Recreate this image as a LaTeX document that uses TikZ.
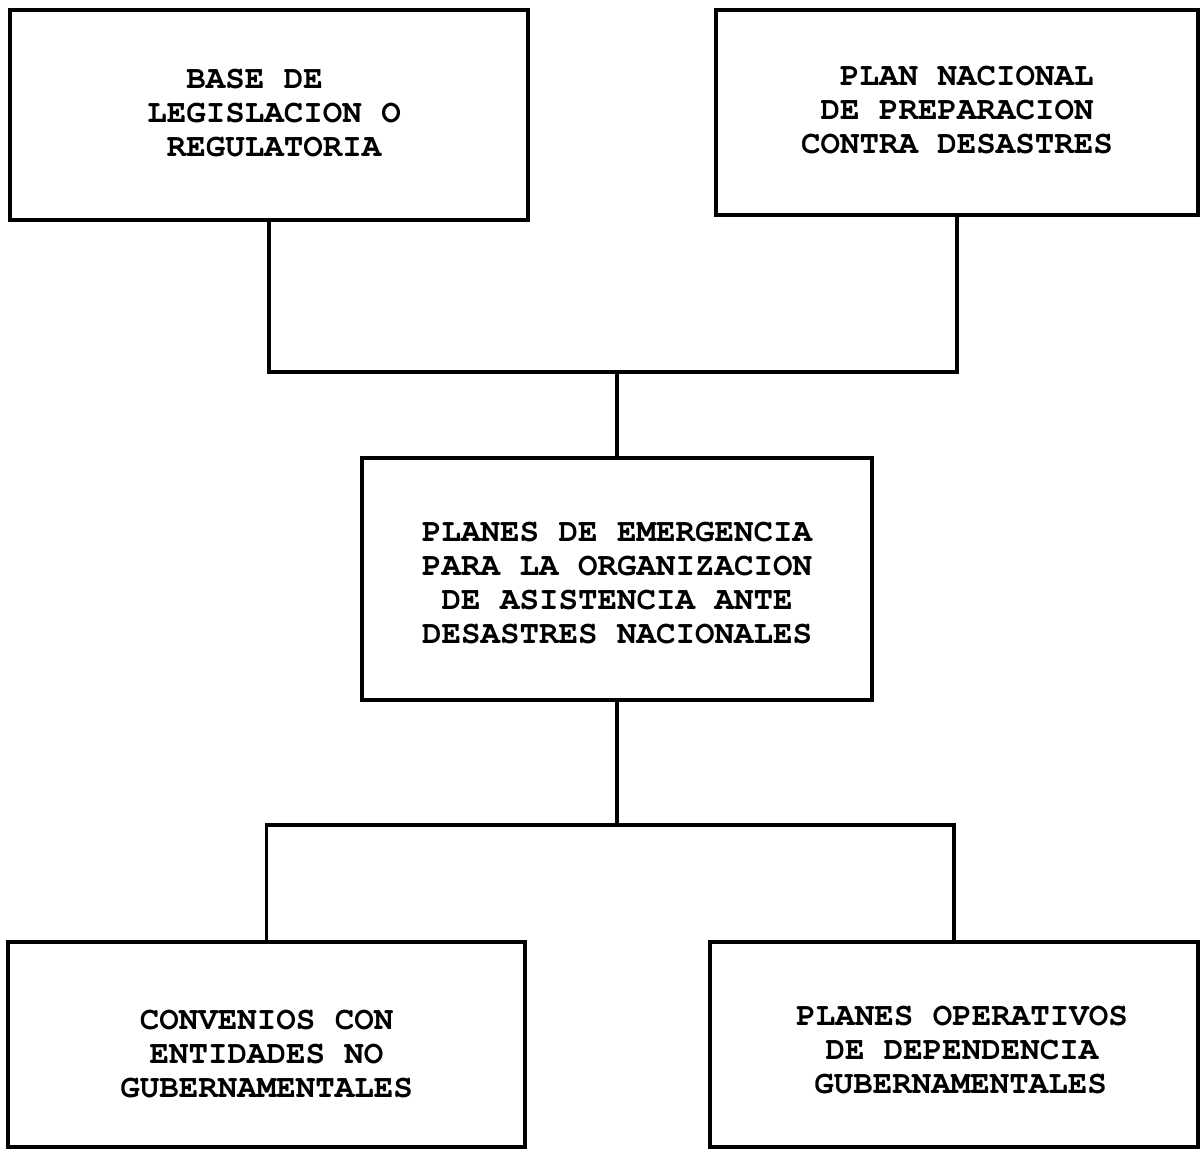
\documentclass[tikz,border=0pt]{standalone}
\usepackage{fontspec}
\newfontfamily\boxfont{texgyrecursor-bold.otf}
\begin{document}
\begin{tikzpicture}[x=1pt,y=-1pt,
  box/.style={draw,line width=3.2pt,rectangle,inner sep=0pt},
  txt/.style={inner sep=0pt,align=center,font=\boxfont\fontsize{32.5}{34}\selectfont},
  link/.style={line width=3.2pt}]
\useasboundingbox (0,0) rectangle (1201,1149);
\node[box,minimum width=518pt,minimum height=210pt] (tl) at (269,115) {};
\node[box,minimum width=482pt,minimum height=205pt] (tr) at (957,112.5) {};
\node[box,minimum width=510pt,minimum height=242pt] (mid) at (617,579) {};
\node[box,minimum width=517pt,minimum height=205pt] (bl) at (266.5,1044.5) {};
\node[box,minimum width=488pt,minimum height=205pt] (br) at (954,1044.5) {};
\node[txt] (tlt) at ([xshift=5pt,yshift=2pt]tl.center) {BASE DE\hspace*{39pt}\\LEGISLACION O\\REGULATORIA};
\node[txt] (trt) at ([xshift=0pt,yshift=2pt]tr.center) {\hspace*{19.5pt}PLAN NACIONAL\\DE PREPARACION\\CONTRA DESASTRES};
\node[txt] (midt) at ([yshift=-4pt]mid.center) {PLANES DE EMERGENCIA\\PARA LA ORGANIZACION\\DE ASISTENCIA ANTE\\DESASTRES NACIONALES};
\node[txt] (blt) at ([yshift=-10pt]bl.center) {CONVENIOS CON\\ENTIDADES NO\hspace*{19.5pt}\\GUBERNAMENTALES};
\node[txt] (brt) at ([xshift=8pt,yshift=-6pt]br.center) {PLANES OPERATIVOS\\DE DEPENDENCIA\hspace*{44pt}\\GUBERNAMENTALES\hspace*{3pt}};
\coordinate (j1) at (617,372);
\coordinate (j2) at (617,825);
\draw[link] (tl.south) |- (j1) -| (tr.south);
\draw[link] (j1) -- (mid.north);
\draw[link] (mid.south) -- (j2);
\draw[link] (bl.north) |- (j2) -| (br.north);
\end{tikzpicture}
\end{document}
